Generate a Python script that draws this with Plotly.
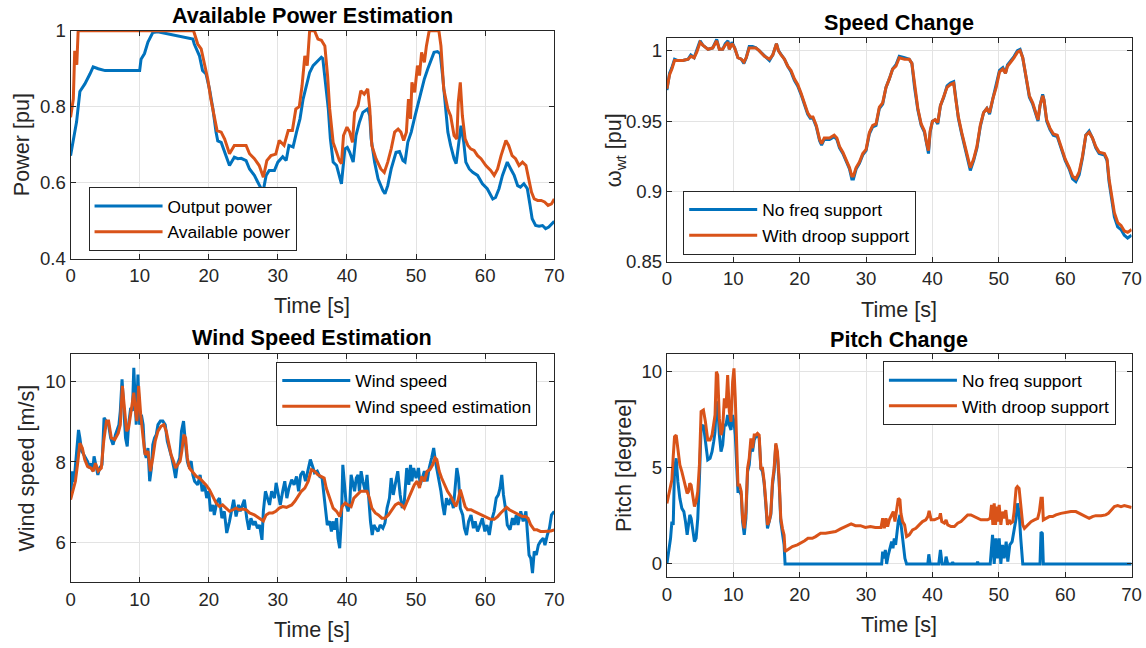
import plotly.graph_objects as go

BLUE = "#0072BD"
ORANGE = "#D95319"
FONT = "Liberation Sans, Arial, Helvetica, sans-serif"
AX = "#262626"

# ---------------- Panel 1: Available Power Estimation ----------------
t_out = [0, 0.87, 1.35, 2.07, 2.8, 3.27, 4, 5, 7, 10, 10.2, 10.7, 11.2, 11.9, 12.6, 15, 17.7,
         17.9, 18.65, 19.1, 19.6, 20.1, 20.6, 21.05, 21.3, 21.8, 22.3, 23, 23.7, 24.2, 24.7, 25.4,
         25.9, 26.6, 27.1, 27.85, 28.3, 28.75, 29.5, 30, 30.7, 31.2, 31.6, 32.2, 32.7, 33.2, 33.65,
         34.1, 34.6, 35.1, 35.6, 36.3, 36.5, 36.8, 37.3, 37.6, 38, 38.5, 38.9, 39.2, 39.7, 40.05,
         40.4, 40.9, 41.3, 41.8, 42.3, 43, 43.3, 43.5, 44, 44.5, 45.2, 45.5, 45.9, 46.4, 47.1, 47.6,
         48.1, 48.4, 48.8, 49.3, 49.8, 50.2, 50.7, 51.2, 51.7, 52.2, 52.6, 53.1, 53.5, 53.85, 54.2,
         54.6, 55, 55.5, 55.8, 56.25, 56.5, 56.9, 57.2, 57.7, 58.2, 58.9, 59.6, 60.3, 61.1, 61.5,
         62, 62.5, 62.8, 63.2, 63.7, 64.2, 64.7, 65.1, 65.6, 66.1, 66.5, 66.8, 67.3, 67.8, 68.3,
         68.75, 69.2, 69.6, 70]
p_out = [0.671, 0.76, 0.84, 0.86, 0.886, 0.905, 0.9, 0.895, 0.895, 0.895, 0.925, 0.94, 0.97, 0.995, 0.997, 0.988, 0.978,
         0.965, 0.934, 0.895, 0.886, 0.847, 0.794, 0.733, 0.71, 0.706, 0.68, 0.645, 0.667, 0.663, 0.664, 0.658,
         0.636, 0.619, 0.601, 0.575, 0.619, 0.632, 0.632, 0.654, 0.668, 0.658, 0.698, 0.694, 0.733, 0.768, 0.82,
         0.855, 0.89, 0.908, 0.917, 0.93, 0.927, 0.88, 0.794, 0.715, 0.654, 0.645, 0.619, 0.597, 0.689, 0.693,
         0.68, 0.654, 0.724, 0.759, 0.785, 0.794, 0.776, 0.715, 0.654, 0.61, 0.579, 0.571, 0.592, 0.636, 0.68, 0.682,
         0.658, 0.654, 0.706, 0.733, 0.772, 0.803, 0.838, 0.873, 0.9, 0.925, 0.943, 0.945, 0.939, 0.88, 0.82,
         0.733, 0.698, 0.663, 0.65, 0.715, 0.75, 0.706, 0.654, 0.636, 0.627, 0.619, 0.597, 0.584, 0.557, 0.561,
         0.584, 0.619, 0.636, 0.654, 0.636, 0.619, 0.592, 0.588, 0.597, 0.584, 0.54, 0.505, 0.487, 0.485, 0.487,
         0.479, 0.483, 0.49, 0.498]

t_avail = [0, 0.4, 0.6, 0.85, 0.9, 1.1, 17.8, 18.4, 18.9, 19.4, 19.85, 20.3, 20.8, 21.2, 21.8, 22.3, 23,
           23.7, 24.4, 25.4, 25.9, 26.6, 27.3, 27.9, 28.4, 29, 29.7, 30.2, 30.9, 31.5, 32.1, 32.6, 33.1,
           33.5, 33.9, 34.25, 34.6, 35.3, 35.8, 36.3, 36.8, 37.2, 37.5, 38, 38.5, 38.9, 39.2, 39.5, 40,
           40.4, 40.8, 41.1, 41.6, 42, 42.5, 43, 43.3, 43.6, 44.2, 44.9, 45.4, 45.9, 46.4, 46.9, 47.4,
           47.8, 48.2, 48.6, 48.9, 49.2, 49.4, 49.8, 50.2, 50.5, 50.8, 51.2, 51.5, 51.9, 53.3, 53.6, 54,
           54.6, 55, 55.5, 55.9, 56.1, 56.4, 56.7, 57.1, 57.5, 57.9, 58.4, 58.9, 59.4, 60.1, 60.8, 61.3,
           61.8, 62.3, 62.6, 63, 63.4, 63.9, 64.4, 64.9, 65.4, 65.9, 66.3, 66.7, 67.1, 67.6, 68.1, 68.6,
           69.1, 69.6, 70]
p_avail = [0.772, 0.82, 0.947, 0.93, 0.91, 1.0, 1.0, 0.965, 0.952, 0.912, 0.873, 0.82, 0.768, 0.737, 0.733, 0.715, 0.676,
           0.698, 0.698, 0.698, 0.676, 0.663, 0.645, 0.614, 0.658, 0.671, 0.675, 0.711, 0.698, 0.737, 0.737, 0.794, 0.8,
           0.855, 0.934, 0.908, 1.0, 1.0, 0.978, 0.975, 0.96, 0.88, 0.794, 0.706, 0.68, 0.658, 0.65, 0.724, 0.746,
           0.733, 0.706, 0.785, 0.803, 0.842, 0.833, 0.847, 0.794, 0.698, 0.663, 0.636, 0.627, 0.654, 0.689, 0.733, 0.741,
           0.733, 0.711, 0.733, 0.82, 0.768, 0.864, 0.838, 0.908, 0.882, 0.943, 0.917, 0.96, 1.0, 1.0, 0.96, 0.847,
           0.794, 0.776, 0.724, 0.715, 0.811, 0.864, 0.776, 0.715, 0.698, 0.689, 0.685, 0.671, 0.663, 0.645, 0.632, 0.619,
           0.636, 0.671, 0.689, 0.711, 0.698, 0.671, 0.663, 0.645, 0.654, 0.645, 0.61, 0.575, 0.557, 0.553, 0.553, 0.549,
           0.54, 0.544, 0.557]

# ---------------- Panel 2: Speed Change ----------------
t_spd = [0, 0.4, 0.75, 1.15, 1.65, 2.4, 3.2, 3.6, 4.1, 4.5, 5, 5.4, 6.2, 6.9, 7.5, 7.9, 8.4, 8.8, 9.2, 9.4,
         9.8, 10.2, 10.7, 11.2, 11.6, 11.95, 12.4, 12.9, 13.4, 13.9, 14.7, 15.45, 15.95, 16.5, 16.8, 17.2,
         17.7, 18.2, 18.7, 19.2, 19.7, 20.2, 20.7, 21.2, 21.6, 22, 22.5, 23, 23.3, 23.7, 24.5, 25.2, 25.6,
         26, 26.5, 27, 27.5, 27.85, 28.1, 28.5, 29, 29.5, 30, 30.5, 31, 31.5, 32, 32.5, 33, 33.5, 34, 34.5,
         35, 35.8, 36.5, 36.9, 37.3, 37.8, 38.3, 38.8, 39.1, 39.4, 39.65, 40, 40.4, 40.8, 41.2, 41.7, 42.2,
         42.7, 43.2, 43.5, 43.9, 44.4, 44.9, 45.3, 45.7, 46.2, 46.7, 47.2, 47.7, 48.2, 48.6, 49.1, 49.6,
         50.1, 50.6, 51, 51.3, 51.8, 52.3, 52.8, 53.2, 53.6, 54.1, 54.6, 55.1, 55.4, 55.9, 56.2, 56.6, 56.8,
         57.2, 57.7, 58.2, 58.8, 59.4, 60, 60.6, 61.1, 61.6, 62.1, 62.6, 63.1, 63.6, 64.1, 64.6, 65.1, 65.9,
         66.3, 66.6, 67, 67.4, 67.9, 68.4, 68.9, 69.4, 70]
w_droop = [0.973, 0.983, 0.987, 0.993, 0.993, 0.993, 0.994, 0.996, 0.995, 0.999, 1.006, 1.004, 1.001, 1.002, 1.007, 1.001, 1.001, 1.004, 1.006, 1.001,
           1.005, 1.002, 0.995, 0.994, 0.992, 0.995, 1.002, 1.002, 1.002, 1.0, 0.996, 0.994, 0.997, 1.005, 1.0, 0.997,
           0.994, 0.989, 0.986, 0.98, 0.976, 0.97, 0.963, 0.956, 0.953, 0.953, 0.947, 0.937, 0.934, 0.938, 0.938, 0.94, 0.938,
           0.932, 0.928, 0.923, 0.917, 0.911, 0.911, 0.917, 0.921, 0.927, 0.93, 0.942, 0.947, 0.948, 0.96, 0.963, 0.974, 0.98, 0.987, 0.989,
           0.995, 0.994, 0.994, 0.991, 0.975, 0.959, 0.948, 0.943, 0.935, 0.929, 0.943, 0.95, 0.951, 0.949, 0.961, 0.967, 0.974,
           0.976, 0.977, 0.966, 0.953, 0.942, 0.932, 0.923, 0.917, 0.923, 0.932, 0.947, 0.956, 0.959, 0.956, 0.966, 0.974,
           0.985, 0.987, 0.984, 0.989, 0.992, 0.995, 0.999, 1.0, 0.995, 0.982, 0.968, 0.963, 0.958, 0.951, 0.961, 0.968, 0.965,
           0.951, 0.945, 0.941, 0.94, 0.932, 0.923, 0.917, 0.911, 0.909, 0.914, 0.925, 0.94, 0.942, 0.938, 0.932, 0.928, 0.927,
           0.923, 0.909, 0.895, 0.885, 0.878, 0.876, 0.872, 0.871, 0.873]
w_nofreq = [0.972, 0.984, 0.988, 0.994, 0.993, 0.993, 0.994, 0.997, 0.995, 1.0, 1.007, 1.004, 1.001, 1.002, 1.008, 1.001, 1.001, 1.005, 1.007, 1.001,
            1.006, 1.002, 0.995, 0.994, 0.991, 0.995, 1.003, 1.003, 1.002, 1.0, 0.996, 0.993, 0.997, 1.005, 1.0, 0.997,
            0.994, 0.989, 0.985, 0.979, 0.975, 0.969, 0.962, 0.955, 0.952, 0.952, 0.946, 0.936, 0.933, 0.937, 0.937, 0.939, 0.937,
            0.931, 0.927, 0.922, 0.916, 0.909, 0.909, 0.916, 0.92, 0.926, 0.929, 0.941, 0.946, 0.947, 0.959, 0.962, 0.974, 0.98, 0.987, 0.99,
            0.996, 0.995, 0.994, 0.991, 0.974, 0.958, 0.947, 0.942, 0.933, 0.927, 0.942, 0.95, 0.951, 0.948, 0.961, 0.967, 0.975,
            0.977, 0.978, 0.966, 0.952, 0.941, 0.931, 0.921, 0.915, 0.922, 0.931, 0.946, 0.956, 0.959, 0.955, 0.966, 0.975,
            0.986, 0.988, 0.984, 0.99, 0.993, 0.996, 1.0, 1.001, 0.995, 0.982, 0.967, 0.962, 0.957, 0.95, 0.961, 0.969, 0.965,
            0.95, 0.944, 0.94, 0.939, 0.931, 0.922, 0.916, 0.909, 0.907, 0.912, 0.924, 0.94, 0.943, 0.938, 0.931, 0.927, 0.926,
            0.922, 0.907, 0.893, 0.882, 0.875, 0.873, 0.869, 0.867, 0.869]

# ---------------- Panel 3: Wind Speed Estimation ----------------
t_wind = [0, 0.25, 0.5, 0.7, 0.95, 1.15, 1.35, 1.6, 1.8, 2.15, 2.45, 2.7, 2.95, 3.2, 3.4, 3.65, 3.95, 4.2, 4.55,
          4.85, 5.2, 5.5, 5.8, 6.15, 6.5, 6.8, 7.0, 7.2, 7.45, 7.7, 7.95, 8.2, 8.4, 8.7, 8.95, 9.15, 9.3, 9.5,
          9.75, 10.0, 10.25, 10.5, 10.7, 10.95, 11.2, 11.45, 11.7, 11.9, 12.15, 12.4, 12.65, 13.0, 13.35, 13.7,
          14.0, 14.3, 14.65, 14.95, 15.2, 15.45, 15.8, 16.05, 16.35, 16.6, 16.9, 17.1, 17.45, 17.7, 17.95, 18.4,
          18.75, 19.05, 19.4, 19.7, 20.0, 20.25, 20.6, 20.8, 21.2, 21.55, 21.9, 22.25, 22.6, 23.0, 23.3, 23.6,
          23.95, 24.3, 24.55, 24.9, 25.15, 25.5, 25.8, 26.1, 26.45, 26.7, 27.05, 27.35, 27.7, 27.9, 28.2, 28.5,
          28.8, 29.1, 29.5, 29.75, 30.05, 30.35, 30.7, 31.0, 31.3, 31.6, 32.0, 32.35, 32.7, 33.0, 33.3, 33.65,
          34.0, 34.4, 34.7, 35.1, 35.3, 35.7, 36.05, 36.4, 36.7, 36.9, 37.15, 37.5, 37.75, 38.0, 38.2, 38.5,
          38.7, 38.95, 39.2, 39.4, 39.65, 39.9, 40.15, 40.4, 40.6, 40.85, 41.1, 41.35, 41.6, 41.8, 42.05, 42.3,
          42.65, 42.9, 43.2, 43.4, 43.65, 43.9, 44.15, 44.5, 44.8, 45.2, 45.5, 45.8, 46.15, 46.4, 46.7, 47.0,
          47.35, 47.7, 48.0, 48.3, 48.65, 48.95, 49.2, 49.4, 49.65, 50.0, 50.35, 50.6, 50.95, 51.2, 51.6, 51.9,
          52.25, 52.55, 52.8, 53.0, 53.35, 53.6, 53.85, 54.1, 54.4, 54.7, 55.05, 55.4, 55.65, 55.9, 56.15, 56.4,
          56.75, 57.0, 57.3, 57.6, 57.95, 58.3, 58.55, 58.9, 59.25, 59.6, 59.95, 60.25, 60.6, 60.9, 61.3, 61.6,
          61.9, 62.15, 62.4, 62.65, 63.0, 63.2, 63.6, 63.95, 64.2, 64.5, 64.75, 65.15, 65.5, 65.9, 66.1, 66.35,
          66.6, 66.85, 67.1, 67.4, 67.7, 68.0, 68.4, 68.65, 69.0, 69.3, 69.6, 70.0]
v_wind = [7.1, 7.77, 7.5, 7.93, 8.27, 8.8, 8.6, 8.27, 8.22, 8.1, 8.02, 7.85, 7.97, 7.77, 8.14, 7.93, 7.68, 7.85, 7.93,
          9.1, 9.0, 8.93, 8.6, 8.43, 8.68, 8.85, 8.93, 9.27, 10.06, 9.35, 8.6, 8.39, 8.93, 9.35, 9.27, 10.35, 9.77, 8.93,
          10.18, 8.93, 9.18, 8.93, 8.27, 8.1, 8.35, 7.52, 7.85, 8.43, 8.6, 8.68, 8.93, 9.02, 9.02, 8.93,
          8.52, 8.35, 8.1, 7.85, 7.6, 7.93, 8.1, 8.77, 9.02, 8.52, 8.02, 7.89, 8.02, 7.68, 7.52, 7.43,
          7.68, 7.27, 7.43, 7.1, 7.27, 6.77, 6.93, 6.68, 7.02, 7.1, 6.6, 6.77, 6.23, 6.52, 6.81, 7.06,
          6.64, 6.93, 6.77, 6.93, 7.06, 6.6, 6.31, 6.6, 6.43, 6.52, 6.35, 6.43, 6.06, 6.77, 7.27, 7.1,
          6.93, 7.27, 7.1, 7.48, 7.18, 6.93, 7.27, 7.52, 7.1, 7.35, 7.56, 7.43, 7.64, 7.27, 7.68, 7.77,
          7.52, 7.85, 8.06, 7.85, 7.73, 7.77, 7.64, 7.6, 7.18, 6.77, 6.43, 6.52, 6.27, 6.52, 6.31, 6.6,
          6.1, 5.85, 6.6, 7.93, 7.43, 6.93, 6.77, 6.93, 7.68, 7.43, 7.27, 7.6, 7.68, 7.27, 7.77, 7.52,
          7.27, 7.68, 6.85, 6.52, 6.18, 6.43, 6.35, 6.27, 6.43, 6.35, 6.48, 6.85, 7.1, 7.6, 7.18, 7.43,
          7.77, 7.18, 6.85, 7.02, 7.85, 7.43, 7.93, 7.52, 7.85, 7.6, 7.85, 7.43, 7.6, 7.77, 7.52, 7.85,
          8.1, 8.35, 8.02, 7.85, 7.52, 7.27, 6.93, 6.68, 7.1, 6.93, 7.1, 6.85, 7.35, 7.85, 7.6, 6.85,
          6.68, 6.35, 6.18, 6.52, 6.68, 6.35, 6.52, 6.27, 6.43, 6.6, 6.27, 6.43, 6.18, 6.52, 6.77, 7.1,
          7.18, 7.35, 7.68, 7.18, 6.77, 6.43, 6.31, 6.6, 6.43, 6.68, 6.43, 6.77, 6.52, 6.77, 6.27, 5.68,
          5.6, 5.23, 5.77, 5.68, 5.93, 6.02, 6.1, 5.93, 6.18, 6.35, 6.68, 6.77]

t_west = [0, 0.4, 0.7, 1.0, 1.35, 1.7, 2.05, 2.45, 2.95, 3.3, 3.6, 4.0, 4.45, 4.8, 5.2, 5.5, 5.9, 6.4, 6.9,
          7.2, 7.5, 7.75, 8.1, 8.4, 8.8, 9.15, 9.4, 9.6, 9.85, 10.15, 10.5, 10.8, 11.2, 11.55, 11.9, 12.25,
          12.65, 13.1, 13.5, 13.85, 14.25, 14.55, 14.9, 15.2, 15.5, 15.85, 16.1, 16.4, 16.65, 16.9, 17.2,
          17.7, 18.2, 18.65, 19.15, 19.6, 20.1, 20.6, 21.05, 21.55, 22.0, 22.5, 23.0, 23.5, 23.95, 24.4,
          24.9, 25.4, 25.9, 26.6, 27.3, 27.9, 28.3, 28.75, 29.25, 29.7, 30.2, 30.7, 31.25, 32.0, 32.45,
          32.9, 33.4, 33.9, 34.4, 34.85, 35.3, 35.8, 36.3, 36.7, 37.0, 37.5, 38.0, 38.5, 38.95, 39.3,
          39.75, 40.15, 40.6, 41.0, 41.5, 42.0, 42.45, 42.9, 43.25, 43.6, 44.1, 44.55, 45.05, 45.5, 46.0,
          46.5, 47.0, 47.45, 47.9, 48.3, 48.7, 49.0, 49.4, 49.75, 50.15, 50.5, 50.8, 51.2, 51.6, 52.0,
          52.4, 52.75, 53.0, 53.35, 53.7, 54.1, 54.55, 55.05, 55.4, 55.75, 56.1, 56.4, 56.75, 57.1, 57.45,
          57.95, 58.4, 58.9, 59.4, 59.85, 60.35, 60.8, 61.3, 61.8, 62.25, 62.75, 63.1, 63.5, 63.95, 64.4,
          64.9, 65.4, 65.85, 66.2, 66.6, 67.1, 67.5, 68.0, 68.5, 69.0, 69.5, 70.0]
v_west = [7.06, 7.31, 7.52, 7.93, 8.47, 8.35, 8.06, 7.89, 7.85, 7.77, 7.97, 7.77, 7.85, 8.52, 9.02, 9.02, 8.6, 8.56, 8.72,
          8.93, 9.9, 9.43, 8.77, 8.85, 9.35, 9.73, 9.27, 9.02, 9.9, 9.18, 8.6, 8.18, 8.27, 7.77, 8.1, 8.52,
          8.77, 8.89, 8.93, 8.77, 8.43, 8.18, 8.02, 7.85, 7.93, 8.02, 8.27, 8.68, 8.6, 8.1, 7.85,
          7.73, 7.64, 7.6, 7.52, 7.43, 7.31, 7.14, 6.98, 6.89, 6.93, 6.85, 6.77, 6.81, 6.85, 6.81,
          6.83, 6.81, 6.73, 6.68, 6.6, 6.53, 6.68, 6.73, 6.73, 6.77, 6.85, 6.89, 6.87, 6.93, 7.02,
          7.14, 7.27, 7.35, 7.52, 7.81, 7.77, 7.68, 7.64, 7.6, 7.35, 7.1, 6.85, 6.77, 6.64, 6.89,
          6.98, 6.93, 6.89, 7.1, 7.18, 7.27, 7.27, 7.27, 7.1, 6.85, 6.73, 6.68, 6.6, 6.6, 6.68,
          6.81, 6.93, 6.98, 6.93, 6.85, 7.02, 7.1, 7.27, 7.43, 7.52, 7.35, 7.64, 7.52, 7.77, 7.81,
          7.93, 8.1, 8.06, 7.77, 7.6, 7.43, 7.27, 7.14, 7.02, 6.89, 7.06, 7.31, 7.1, 6.89, 6.81,
          6.81, 6.77, 6.73, 6.68, 6.64, 6.6, 6.57, 6.57, 6.64, 6.73, 6.81, 6.87, 6.81, 6.77, 6.73,
          6.68, 6.64, 6.64, 6.6, 6.43, 6.31, 6.31, 6.27, 6.27, 6.27, 6.28, 6.31]

# ---------------- Panel 4: Pitch Change ----------------
t_pd = [0, 0.3, 0.55, 0.75, 0.95, 1.15, 1.4, 1.65, 1.95, 2.25, 2.55, 2.8, 3.05, 3.25, 3.45, 3.65, 3.9, 4.15,
        4.4, 4.65, 4.9, 5.15, 5.5, 5.8, 6.15, 6.5, 6.8, 7.05, 7.25, 7.45, 7.65, 7.9, 8.15, 8.4, 8.65, 8.9,
        9.15, 9.4, 9.65, 9.9, 10.1, 10.3, 10.5, 10.7, 10.95, 11.2, 11.4, 11.65, 11.9, 12.15, 12.4, 12.65,
        12.9, 13.15, 13.4, 13.65, 13.9, 14.15, 14.4, 14.65, 14.9, 15.15, 15.4, 15.65, 15.9, 16.15, 16.4,
        16.65, 16.9, 17.15, 17.4, 17.65, 17.8, 18.4, 18.9, 19.65, 20.15, 20.75, 21.25, 21.9, 22.4, 23.15,
        23.9, 24.65, 25.4, 26.15, 26.9, 27.75, 28.4, 29.15, 29.9, 30.65, 31.4, 32.25, 32.5, 32.75, 33.0,
        33.25, 33.5, 33.85, 34.1, 34.35, 34.6, 34.85, 35.1, 35.25, 35.5, 35.8, 36.1, 36.5, 37.0, 37.5,
        38.0, 38.5, 39.0, 39.3, 39.5, 39.8, 40.3, 40.8, 41.05, 41.2, 41.4, 41.8, 42.05, 42.3, 42.8, 43.3,
        43.8, 44.3, 44.8, 45.3, 45.8, 46.3, 46.8, 47.3, 47.8, 48.3, 48.7, 48.9, 49.1, 49.3, 49.5, 49.7,
        49.85, 50.05, 50.3, 50.55, 50.8, 51.05, 51.3, 51.55, 51.8, 52.1, 52.3, 52.6, 52.8, 53.05, 53.3,
        53.6, 53.85, 54.35, 54.85, 55.35, 55.85, 56.1, 56.35, 56.55, 56.7, 57.1, 57.6, 58.1, 58.6, 59.35,
        60.1, 60.85, 61.6, 62.1, 62.6, 63.1, 63.6, 64.1, 64.6, 65.4, 66.1, 66.5, 66.9, 67.4, 67.9, 68.4,
        68.9, 69.4, 70.0]
p_droop = [3.15, 3.67, 4.1, 4.37, 5.58, 6.62, 6.7, 5.84, 5.15, 4.8, 4.37, 4.1, 3.67, 3.76, 4.19, 4.1, 3.6, 2.98,
           3.24, 3.76, 5.15, 7.92, 8.0, 7.4, 6.45, 6.45, 6.7, 7.23, 7.75, 10.0, 9.83, 7.57, 6.7, 7.05, 8.61, 8.1,
           9.83, 7.92, 7.4, 9.48, 10.17, 8.61, 5.49, 4.1, 4.1, 3.76, 2.37, 1.85, 2.72, 4.97, 5.49, 6.53,
           6.02, 6.7, 6.7, 6.79, 6.7, 4.97, 4.97, 4.28, 3.24, 2.03, 2.2, 2.63, 4.28, 4.97, 6.27,
           5.84, 4.45, 2.37, 1.85, 1.51, 0.64, 0.78, 0.9, 0.99, 1.07, 1.2, 1.33, 1.33, 1.42, 1.59,
           1.59, 1.65, 1.68, 1.82, 1.94, 2.08, 1.99, 1.99, 1.9, 1.94, 1.89, 1.89, 2.37, 1.85, 2.37,
           1.94, 2.29, 2.55, 2.72, 2.2, 2.72, 3.41, 3.33, 2.63, 2.2, 2.03, 1.42, 1.51, 1.77, 1.85,
           2.03, 2.2, 2.29, 2.46, 2.76, 2.29, 2.29, 2.37, 2.41, 2.63, 2.2, 2.12, 2.29, 2.03, 1.94, 1.94,
           2.12, 2.2, 2.37, 2.55, 2.55, 2.46, 2.37, 2.29, 2.29, 2.29, 2.37, 3.07, 2.03, 3.15, 2.03, 2.98,
           2.2, 3.07, 2.03, 2.72, 2.37, 2.8, 2.03, 2.29, 2.12, 2.2, 2.72, 3.93, 4.02, 3.93, 3.07,
           2.03, 1.85, 2.03, 2.2, 2.29, 2.37, 2.72, 3.41, 3.41, 2.29, 2.37, 2.46, 2.46, 2.55, 2.63,
           2.68, 2.72, 2.72, 2.63, 2.55, 2.46, 2.37, 2.46, 2.51, 2.51, 2.55, 2.63, 2.81, 2.98, 3.03, 2.98,
           3.03, 2.98, 2.93]

t_pn = [0, 0.3, 0.55, 0.75, 0.95, 1.15, 1.4, 1.65, 1.95, 2.25, 2.55, 2.8, 3.05, 3.25, 3.45, 3.65, 3.9, 4.15,
        4.4, 4.65, 4.9, 5.15, 5.5, 5.8, 6.15, 6.5, 6.8, 7.05, 7.25, 7.45, 7.65, 7.9, 8.15, 8.4, 8.65, 8.9,
        9.15, 9.4, 9.65, 9.9, 10.1, 10.3, 10.5, 10.7, 10.95, 11.2, 11.4, 11.65, 11.9, 12.15, 12.4, 12.65,
        12.9, 13.15, 13.4, 13.65, 13.9, 14.15, 14.4, 14.65, 14.9, 15.15, 15.4, 15.65, 15.9, 16.15, 16.4,
        16.65, 16.9, 17.15, 17.4, 17.65, 17.8, 32.35, 32.5, 32.75, 32.9, 33.1, 33.35, 33.6, 33.85, 34.05,
        34.25, 34.45, 34.65, 34.85, 35.1, 35.35, 35.6, 35.85, 36.1, 39.3, 39.45, 39.65, 40.95, 41.2, 41.45,
        41.9, 42.05, 42.3, 42.9, 43.05, 43.2, 46.7, 46.8, 46.9, 48.7, 49.05, 49.3, 49.55, 49.8, 50.05,
        50.3, 50.55, 50.8, 51.1, 51.35, 51.65, 52.0, 52.25, 52.6, 52.8, 53.05, 53.3, 53.6, 56.2, 56.35,
        56.55, 56.7, 70.0]
p_nofreq = [0, 0.64, 1.33, 2.2, 2.03, 4.97, 5.49, 4.28, 3.41, 2.89, 2.72, 2.2, 1.51, 2.03, 2.55, 2.37, 1.68, 1.16,
            1.33, 2.37, 4.45, 7.05, 7.23, 6.36, 5.41, 5.49, 5.84, 6.36, 6.88, 8.44, 8.27, 6.7, 5.84, 6.19, 7.23, 7.23,
            7.75, 7.23, 6.97, 7.75, 7.4, 6.7, 5.32, 3.76, 3.76, 3.59, 2.2, 1.51, 2.37, 4.8, 5.15, 6.19,
            5.84, 6.45, 6.62, 6.7, 6.53, 4.97, 4.8, 4.19, 3.07, 1.85, 2.2, 2.55, 4.1, 4.8, 6.19,
            5.67, 4.28, 2.2, 1.59, 0.99, 0, 0, 0.64, 0.29, 0.73, 0, 0.47, 0.78, 1.16, 0.81,
            1.33, 0.99, 1.68, 2.2, 2.55, 1.85, 0.99, 0.29, 0, 0, 0.5, 0, 0, 0.73, 0,
            0, 0.38, 0, 0, 0.09, 0, 0, 0.12, 0, 0, 1.51, 0, 1.33, 0.29, 1.33,
            0, 0.99, 0.29, 1.16, 0.12, 0.99, 1.16, 1.77, 2.37, 3.15, 2.72, 1.33, 0, 0, 1.65,
            1.59, 0, 0]

# ---------------- figure ----------------
W, H = 1146, 648
# the page is photographed slightly scaled; these factors place elements at the
# intended final pixel positions (measured from earlier renders)
SX, OX, SY, OY = 0.9875, 3.4, 0.9665, 11.0


def PX(px):
    return ((px - OX) / SX) / W


def PY(py):
    return 1 - ((py - OY) / SY) / H


XD_L = [PX(69), PX(553)]
XD_R = [PX(665.7), PX(1130.7)]
YD = {1: [PY(259.3), PY(31.7)],
      2: [PY(262.7), PY(39)],
      3: [PY(582.7), PY(354.3)],
      4: [PY(577.7), PY(355)]}

fig = go.Figure()
LW = 3


def add(x, y, color, name, idx, legend):
    fig.add_trace(go.Scatter(x=x, y=y, mode="lines", name=name,
                             line=dict(color=color, width=LW),
                             xaxis="x" if idx == 1 else f"x{idx}",
                             yaxis="y" if idx == 1 else f"y{idx}",
                             legend=legend))


add(t_out, p_out, BLUE, "Output power", 1, "legend")
add(t_avail, p_avail, ORANGE, "Available power", 1, "legend")
add(t_spd, w_nofreq, BLUE, "No freq support", 2, "legend2")
add(t_spd, w_droop, ORANGE, "With droop support", 2, "legend2")
add(t_wind, v_wind, BLUE, "Wind speed", 3, "legend3")
add(t_west, v_west, ORANGE, "Wind speed estimation", 3, "legend3")
add(t_pn, p_nofreq, BLUE, "No freq support", 4, "legend4")
add(t_pd, p_droop, ORANGE, "With droop support", 4, "legend4")

tickfont = dict(family=FONT, size=18.6, color=AX)


def axis_common():
    return dict(showline=True, linecolor=AX, linewidth=1, mirror="ticks",
                ticks="inside", ticklen=5, tickcolor=AX, tickwidth=1,
                showgrid=True, gridcolor="#e3e3e3", gridwidth=1,
                zeroline=False, tickfont=tickfont)


yranges = {1: [0.4, 1.0], 2: [0.85, 1.009], 3: [5.0, 10.7], 4: [-0.7, 10.9]}
yticks = {1: ([0.4, 0.6, 0.8, 1.0], ["0.4", "0.6", "0.8", "1"]),
          2: ([0.85, 0.9, 0.95, 1.0], ["0.85", "0.9", "0.95", "1"]),
          3: ([6, 8, 10], ["6", "8", "10"]),
          4: ([0, 5, 10], ["0", "5", "10"])}
xticks = [0, 10, 20, 30, 40, 50, 60, 70]

layout = dict(width=W, height=H, margin=dict(l=0, r=0, t=0, b=0),
              paper_bgcolor="white", plot_bgcolor="white",
              font=dict(family=FONT, color=AX))
for i in range(1, 5):
    sx = "" if i == 1 else str(i)
    xa = axis_common()
    xa.update(domain=XD_L if i in (1, 3) else XD_R, range=[0, 70],
              tickvals=xticks, ticktext=[str(v) for v in xticks], anchor="y" + sx)
    ya = axis_common()
    ya.update(domain=YD[i], range=yranges[i], tickvals=yticks[i][0],
              ticktext=yticks[i][1], anchor="x" + sx)
    layout["xaxis" + sx] = xa
    layout["yaxis" + sx] = ya

legfont = dict(family=FONT, size=17.4, color="black")
legbase = dict(bgcolor="white", bordercolor=AX, borderwidth=1, font=legfont,
               xref="paper", yref="paper", itemwidth=68, tracegroupgap=0)
layout["legend"] = dict(legbase, x=PX(87), y=PY(220), xanchor="left", yanchor="middle")
layout["legend2"] = dict(legbase, x=PX(682), y=PY(223.5), xanchor="left", yanchor="middle")
layout["legend3"] = dict(legbase, x=PX(536), y=PY(394.3), xanchor="right", yanchor="middle")
layout["legend4"] = dict(legbase, x=PX(1115), y=PY(394), xanchor="right", yanchor="middle")

fig.update_layout(**layout)

ann = []
titles = [("Available Power Estimation", (XD_L[0] + XD_L[1]) / 2, 16),
          ("Speed Change", (XD_R[0] + XD_R[1]) / 2, 23),
          ("Wind Speed Estimation", (XD_L[0] + XD_L[1]) / 2, 338),
          ("Pitch Change", (XD_R[0] + XD_R[1]) / 2, 340)]
for txt, xc, ypx in titles:
    ann.append(dict(text=f"<b>{txt}</b>", x=xc, y=PY(ypx), xref="paper", yref="paper",
                    xanchor="center", yanchor="middle", showarrow=False,
                    font=dict(family=FONT, size=21.6, color="black")))
xlabels = [((XD_L[0] + XD_L[1]) / 2, 306), ((XD_R[0] + XD_R[1]) / 2, 310),
           ((XD_L[0] + XD_L[1]) / 2, 630), ((XD_R[0] + XD_R[1]) / 2, 625)]
for xc, ypx in xlabels:
    ann.append(dict(text="Time [s]", x=xc, y=PY(ypx), xref="paper", yref="paper",
                    xanchor="center", yanchor="middle", showarrow=False,
                    font=dict(family=FONT, size=21.6, color=AX)))
ylabels = [("Power [pu]", 20, YD[1]), ("ω<sub>wt</sub> [pu]", 614, YD[2]),
           ("Wind speed [m/s]", 24, YD[3]), ("Pitch [degree]", 623, YD[4])]
for txt, xpx, yd in ylabels:
    ann.append(dict(text=txt, x=PX(xpx), y=(yd[0] + yd[1]) / 2, xref="paper", yref="paper",
                    xanchor="center", yanchor="middle", showarrow=False, textangle=-90,
                    font=dict(family=FONT, size=21.6, color=AX)))
fig.update_layout(annotations=ann)

fig.write_html("out.html")
